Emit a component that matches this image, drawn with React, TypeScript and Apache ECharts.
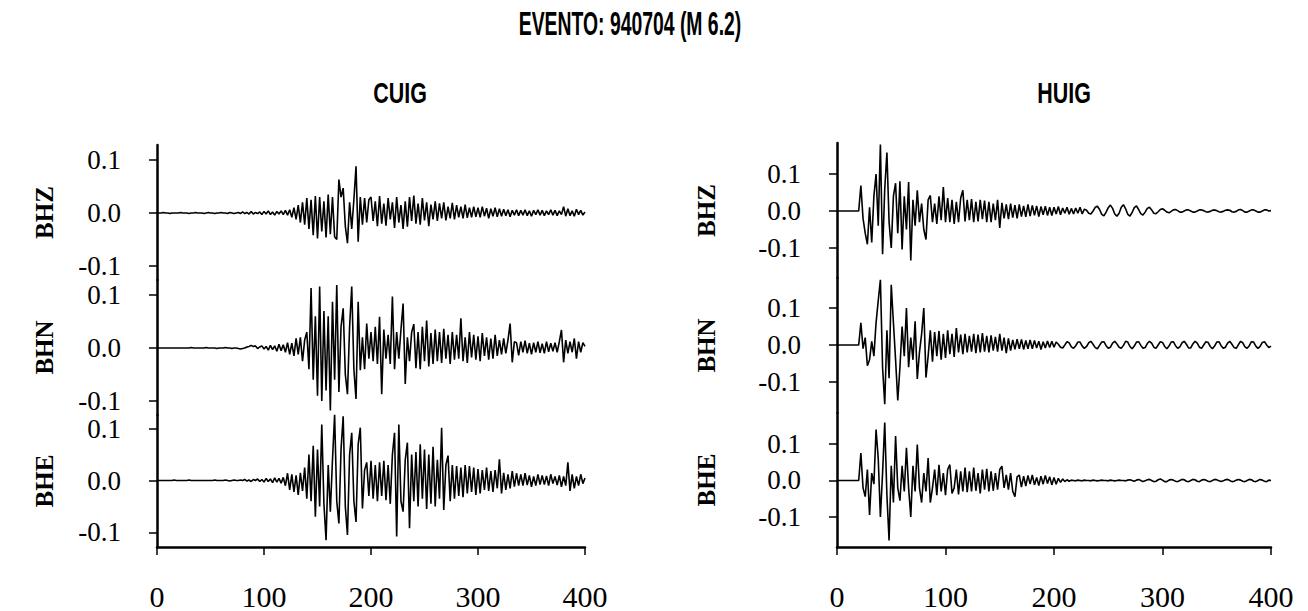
import React, { useEffect, useRef } from "react";
import * as echarts from "echarts";

const TITLE = "EVENTO: 940704 (M 6.2)";
const STATIONS = ["CUIG", "HUIG"];
const CHANNELS = ["BHZ", "BHN", "BHE"];
const X_TICKS = [0, 100, 200, 300, 400];
const Y_TICKS = [-0.1, 0, 0.1];
const SAMPLE_STEP = 2; // seconds between samples
// amplitudes below are in thousandths (value / 1000)

const CUIG_BHZ = [
  0, 0, 0, 1, 0, 0, -1, 0, 0, 0,
  0, 1, 0, 0, 0, -1, 0, 0, 1, 0,
  0, 0, -1, 0, 1, 0, 0, -1, 0, 0,
  1, 0, 0, -1, 1, 0, -1, 0, 1, -1,
  2, -1, 1, -2, 3, -2, 1, -1, 2, -3,
  3, -2, 4, -3, 2, -4, 3, -2, 4, -3,
  5, -4, 6, -8, 10, -12, 15, -18, 20, -22,
  28, -30, 25, -42, 32, -48, 30, -35, 22, -46,
  35, -40, 30, -45, -50, 63, 30, 47, -25, -57,
  20, -30, 25, 88, -54, 30, -22, 28, -18, 25,
  30, -15, 22, -25, 32, -20, 18, -24, 28, -12,
  20, -28, 30, -18, 15, -30, 22, -26, 30, -15,
  33, -20, 18, -22, 28, -14, 20, -25, 16, -12,
  22, -15, 18, -10, 20, -14, 12, -10, 19, -12,
  15, -8, 12, -10, 16, -9, 10, -8, 12, -7,
  10, -8, 12, -6, 9, -10, 8, -6, 10, -7,
  8, -6, 7, -5, 6, -7, 5, -4, 6, -5,
  5, -4, 6, -5, 4, -6, 5, -3, 6, -4,
  5, -5, 4, -3, 6, -4, 5, -5, 4, -3,
  12, -6, 8, -5, 4, -6, 7, -3, 5, -4, 2,
];

const CUIG_BHN = [
  0, 0, 0, 0, 0, 0, 0, 0, 0, 0,
  0, 0, 0, 0, 0, 0, 1, 0, 0, 0,
  0, 0, 0, 1, 0, 0, 0, 0, -1, 0,
  0, 0, 1, 0, 0, -1, 0, 0, -1, -2,
  -1, 0, 2, 3, 5, 3, 4, -1, 2, 4,
  -2, 3, -4, 5, -3, 4, -6, 7, -5, 6,
  -8, 10, -12, 9, -15, 18, -12, 20, -25, 15,
  30, -40, 113, -60, 60, -90, 116, -100, 70, -80,
  60, -118, 87, -60, 119, -83, 40, 75, -50, -87,
  40, 116, -40, -96, 87, -42, 20, -40, 46, -20,
  30, -25, 40, -30, 59, -87, 35, -20, 25, -30,
  97, -40, 30, -20, 35, 84, -68, 20, -25, 30,
  45, -38, 30, -40, 40, -25, 52, -35, 28, -30,
  35, -25, 30, -28, 36, -20, 25, -30, 30, -22,
  25, -20, 56, -25, 20, -28, 30, -18, 25, -22,
  22, -25, 28, -15, 20, -22, 18, -20, 25, -15,
  15, -12, 18, -10, 15, 46, -27, 12, 10, -14,
  12, -8, 14, -10, 9, -12, 10, -8, 12, -9,
  8, -10, 12, -7, 9, -6, 10, -8, 12, 34,
  -27, 15, -10, 12, -8, 18, -20, 12, -8, 10, 3,
];

const CUIG_BHE = [
  0, 0, 0, 0, 0, 0, 0, 0, 1, 0,
  0, 0, 0, 0, 0, 1, 0, 0, 0, 0,
  0, 0, 0, 0, 0, 0, 0, 1, 0, 0,
  0, 0, 1, 0, -1, 0, 1, 0, 0, 1,
  0, 2, -1, 1, -2, 2, 0, 3, -2, 2,
  -3, 4, -2, 3, -4, 5, -3, 4, -5, 6,
  -10, 14, -18, 12, -22, 10, -28, 15, -20, 25,
  -35, 50, -40, 67, -70, 60, -50, 108, -45, -115,
  30, -60, 40, 127, -40, -83, 60, 124, -50, -105,
  50, 92, -40, -80, 70, 102, -54, 20, 35, -30,
  38, -35, 30, -40, 35, -30, 38, -38, 30, -45,
  50, 92, -108, 108, -40, -60, 40, 73, -92, 50,
  -40, 55, -50, 70, -35, 60, -55, 50, -45, 65,
  -50, 40, -35, 102, -57, 30, 48, -40, 30, -35,
  28, -30, 25, -32, 30, -25, 28, -22, 25, -28,
  22, -25, 20, -18, 25, -20, 18, -22, 20, -15,
  41, -25, 15, -18, 12, -15, 18, -12, 14, -10,
  12, -10, 14, -9, 10, -12, 8, -10, 12, -8,
  10, -8, 9, -10, 12, -6, 8, -9, 10, -12,
  8, -10, 35, -20, 12, -15, 8, -10, 12, -6, 5,
];

const HUIG_BHZ = [
  0, 0, 0, 0, 0, 0, 0, 0, 0, 0,
  0, 69, -20, -60, -90, 10, -85, 40, 100, -40,
  180, -117, 60, 158, -30, -100, 40, 75, -60, 80,
  -104, 40, -50, 78, -134, 30, -40, 56, -30, 20,
  -50, -77, 30, 42, -30, 20, -35, 40, -25, 65,
  -30, 35, -30, 30, -35, 25, -30, 35, 56, -28,
  30, -25, 32, -30, 25, -28, 30, -22, 28, -30,
  25, -30, 20, -25, 30, -46, 22, -20, 18, -22,
  20, -18, 16, -20, 18, -15, 14, -16, 18, -14,
  15, -12, 14, -15, 12, -10, 13, -12, 10, -12,
  10, -8, 12, -10, 8, -6, 10, -9, 7, -8,
  8, -6, 10, -8, 5, 2, -6, -8, 0, 10,
  13, 4, -9, -13, -3, 9, 16, 7, -8, -14,
  -6, 10, 17, 6, -9, -14, -4, 9, 14, 4,
  -7, -11, -3, 7, 10, 3, -6, -7, -2, 4,
  6, 2, -3, -5, -1, 3, 4, 1, -3, -3,
  0, 3, 3, 0, -3, -3, 0, 3, 3, 1,
  -2, -3, -1, 2, 3, 1, -2, -3, -1, 2,
  3, 2, -2, -3, -1, 3, 4, 1, -3, -3,
  0, 3, 3, 0, -3, -3, 0, 3, 3, 0, 1,
];

const HUIG_BHN = [
  0, 0, 0, 0, 0, 0, 0, 0, 0, 0,
  0, 60, -10, 20, -56, -40, 10, -30, 60, 120,
  176, -60, -160, 40, -90, 163, 60, -40, -150, -60,
  50, -30, 100, -60, 20, -40, 64, -92, -20, 30,
  100, -88, -30, 40, -45, 35, -30, 38, -40, 30,
  -35, 40, -25, 30, -32, 46, -20, 28, -25, 30,
  -20, 25, -18, 30, -22, 28, -20, 32, -18, 25,
  -20, 26, -15, 22, -18, 30, -15, 20, -22, 18,
  -15, 14, -12, 16, -10, 15, -12, 12, -10, 14,
  -10, 12, -8, 10, -12, 9, -8, 11, -7, 10,
  -6, 8, 2, -6, -8, 0, 9, 6, -5, -9,
  -2, 8, 8, -3, -9, -4, 6, 10, 2, -7,
  -10, -1, 8, 9, -2, -9, -6, 5, 10, 3,
  -6, -9, -1, 10, 8, -4, -10, -3, 8, 9,
  -1, -9, -7, 4, 10, 5, -6, -9, 0, 9,
  7, -4, -10, -3, 8, 9, -2, -9, -5, 6,
  10, 2, -8, -8, 3, 10, 5, -6, -9, 0,
  9, 7, -4, -10, -3, 8, 9, -2, -9, -6,
  5, 10, 2, -7, -9, 1, 10, 6, -5, -9,
  -2, 9, 8, -3, -9, -4, 7, 9, 0, -7, -3,
];

const HUIG_BHE = [
  0, 0, 0, 0, 0, 0, 0, 0, 0, 0,
  0, 75, -20, -44, 30, -94, 20, -10, 139, 60,
  -99, 20, 158, -40, -163, 40, -60, 121, -20, -55,
  40, -30, 89, -20, -99, 40, -30, 98, -20, -60,
  20, -30, 61, -60, -20, 30, -40, 43, -30, 20,
  -40, 30, 43, -35, -20, 30, -38, 25, -30, 35,
  -32, 25, -30, 35, -28, 20, -35, 30, -25, 32,
  -30, 25, -28, 20, -25, 30, 39, -20, 15, -25,
  20, -30, -44, 10, 15, -18, 12, -15, 14, -10,
  15, -12, 8, -14, 12, -10, 14, -8, 10, -12,
  8, -10, 6, -5, 4, -3, 2, -2, 1, 0,
  -1, 1, 0, -1, 1, 0, 0, -1, 1, 0,
  -1, 0, 1, 0, 0, -1, 1, 0, -1, 0,
  1, 0, 0, -1, 1, 2, 0, -2, 1, 3,
  0, -3, -1, 2, 3, 0, -3, -2, 2, 4,
  1, -3, -3, 1, 3, 1, -2, -3, 0, 3,
  2, -2, -3, 0, 3, 2, -2, -3, 1, 3,
  1, -2, -3, 0, 3, 2, -1, -3, -1, 2,
  3, 0, -3, -2, 1, 3, 1, -2, -3, 0,
  3, 2, -2, -3, 0, 3, 1, -2, -3, 1, 0,
];

const TRACES = [
  [CUIG_BHZ, CUIG_BHN, CUIG_BHE],
  [HUIG_BHZ, HUIG_BHN, HUIG_BHE],
];

export default function App() {
  const ref = useRef<HTMLDivElement>(null);

  useEffect(() => {
    document.body.style.margin = "0";
    if (!ref.current) return;
    const chart = echarts.init(ref.current, undefined, { renderer: "svg" });

    const panels = [
      { left: 157, width: 428, tops: [145, 280, 415], zeros: [213, 348, 482], scale: 530, nameGap: 100, titleX: 400 },
      { left: 837, width: 434, tops: [143, 278, 413], zeros: [211, 345, 481], scale: 370, nameGap: 118, titleX: 1064 },
    ];
    const rowH = 135;
    const serif = "'Liberation Serif', 'Times New Roman', serif";
    const sans = "'Liberation Sans', Arial, sans-serif";

    const grid: any[] = [];
    const xAxis: any[] = [];
    const yAxis: any[] = [];
    const series: any[] = [];

    panels.forEach((p, pi) => {
      CHANNELS.forEach((ch, ci) => {
        const idx = grid.length;
        const top = p.tops[ci];
        const zero = p.zeros[ci];
        grid.push({ left: p.left, top, width: p.width, height: rowH });
        const isBottom = ci === CHANNELS.length - 1;
        xAxis.push({
          gridIndex: idx,
          type: "value",
          min: 0,
          max: 400,
          interval: 100,
          show: isBottom,
          axisLine: { show: true, onZero: false, lineStyle: { color: "#000", width: 2.5 } },
          axisTick: { show: true, inside: false, length: 8, lineStyle: { color: "#000", width: 1.5 }, customValues: X_TICKS },
          axisLabel: {
            show: true,
            margin: 34,
            color: "#000",
            fontFamily: serif,
            fontSize: 30,
            customValues: X_TICKS,
            formatter: (v: number) => String(v),
          },
          splitLine: { show: false },
        });
        yAxis.push({
          gridIndex: idx,
          type: "value",
          min: (-(top + rowH - zero)) / p.scale,
          max: (zero - top) / p.scale,
          name: ch,
          nameLocation: "middle",
          nameRotate: 90,
          nameGap: p.nameGap,
          nameTextStyle: { color: "#000", fontFamily: serif, fontSize: 25, fontWeight: "bold" },
          axisLine: { show: true, onZero: false, lineStyle: { color: "#000", width: 2.5 } },
          axisTick: { show: true, inside: false, length: 8, lineStyle: { color: "#000", width: 1.5 }, customValues: Y_TICKS },
          axisLabel: {
            show: true,
            margin: 36,
            color: "#000",
            fontFamily: serif,
            fontSize: 27,
            customValues: Y_TICKS,
            formatter: (v: number) => (Math.abs(v) < 1e-9 ? "0.0" : v.toFixed(1)),
          },
          splitLine: { show: false },
        });
        series.push({
          type: "line",
          name: STATIONS[pi] + " " + ch,
          xAxisIndex: idx,
          yAxisIndex: idx,
          data: TRACES[pi][ci].map((v, i) => [i * SAMPLE_STEP, v / 1000]),
          showSymbol: false,
          symbol: "none",
          lineStyle: { color: "#000", width: 1.6 },
          clip: false,
        });
      });
    });

    chart.setOption({
      animation: false,
      backgroundColor: "#fff",
      grid,
      xAxis,
      yAxis,
      series,
      graphic: [
        {
          type: "text",
          x: 630,
          y: 23,
          scaleX: 0.57,
          style: {
            text: TITLE,
            font: `bold 34px ${sans}`,
            fill: "#000",
            align: "center",
            verticalAlign: "middle",
          },
        },
        ...panels.map((p, pi) => ({
          type: "text",
          x: p.titleX,
          y: 93,
          scaleX: 0.74,
          style: {
            text: STATIONS[pi],
            font: `bold 29px ${sans}`,
            fill: "#000",
            align: "center",
            verticalAlign: "middle",
          },
        })),
      ],
    });

    return () => chart.dispose();
  }, []);

  return <div ref={ref} style={{ width: 1308, height: 611 }} />;
}
